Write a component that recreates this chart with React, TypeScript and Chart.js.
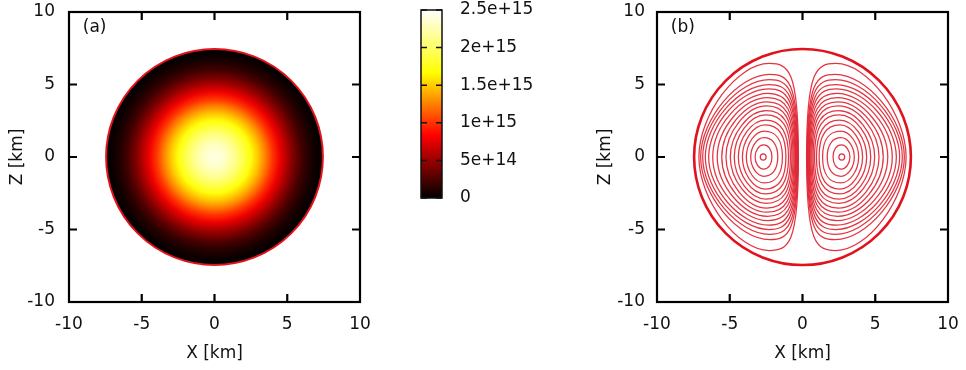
import React, { useEffect, useRef } from "react";
import { Chart, registerables } from "chart.js";

Chart.register(...registerables);

// ---------------- data ----------------
const axisTickValues = [-10, -5, 0, 5, 10];
const frameTickValues = [-5, 0, 5];
const starRadiusKm = 7.45;

// Panel (a): radial density profile
const profileRadiusKm = [0, 0.5, 1, 1.5, 2, 2.5, 3, 3.5, 4, 4.5, 5, 5.5, 6, 6.5, 7, 7.45];
const profileDensity = [
  2.4e15, 2.36e15, 2.25e15, 2.1e15, 1.91e15, 1.7e15, 1.48e15, 1.25e15,
  1.0e15, 0.78e15, 0.57e15, 0.38e15, 0.22e15, 0.11e15, 0.04e15, 0,
];

// Colour bar
const colorbarMin = 0;
const colorbarMax = 2.5e15;
const colorbarTickValues = [0, 5e14, 1e15, 1.5e15, 2e15, 2.5e15];
const colorbarTickLabels = ["0", "5e+14", "1e+15", "1.5e+15", "2e+15", "2.5e+15"];

// "hot" palette (black - red - yellow - white)
const paletteStops = [0, 1 / 3, 2 / 3, 1];
const paletteColors = [
  [0, 0, 0],
  [255, 0, 0],
  [255, 255, 0],
  [255, 255, 255],
];

// Panel (b): closed field-line loops of the right-hand family (inner -> outer),
// the left-hand family is the mirror image. Extents in km.
const loopInnerX = [2.5, 2.1, 1.7, 1.38, 1.14, 0.96, 0.83, 0.73, 0.65, 0.58, 0.52, 0.47, 0.43, 0.39, 0.35, 0.32, 0.28];
const loopTopX = [2.7, 2.68, 2.65, 2.62, 2.58, 2.55, 2.52, 2.49, 2.46, 2.43, 2.4, 2.37, 2.34, 2.31, 2.28, 2.25, 2.3];
const loopTopZ = [0.22, 0.83, 1.33, 1.79, 2.21, 2.55, 2.9, 3.19, 3.52, 3.81, 4.09, 4.39, 4.7, 5.0, 5.33, 5.7, 6.45];
const loopOuterX = [2.9, 3.26, 3.56, 3.86, 4.13, 4.41, 4.69, 4.96, 5.26, 5.55, 5.86, 6.17, 6.45, 6.68, 6.86, 7.0, 7.12];

const xAxisTitle = "X [km]";
const yAxisTitle = "Z [km]";

// ---------------- styling helpers ----------------
const FONT_FAMILY = "'DejaVu Sans', 'Liberation Sans', sans-serif";
const FONT = { family: FONT_FAMILY, size: 17 };
const TEXT = "#111";

function paletteColor(t: number): string {
  const v = Math.max(0, Math.min(1, t));
  for (let i = 1; i < paletteStops.length; i++) {
    if (v <= paletteStops[i]) {
      const f = (v - paletteStops[i - 1]) / (paletteStops[i] - paletteStops[i - 1]);
      const a = paletteColors[i - 1];
      const b = paletteColors[i];
      const c = a.map((ch, j) => Math.round(ch + (b[j] - ch) * f));
      return `rgb(${c[0]},${c[1]},${c[2]})`;
    }
  }
  const c = paletteColors[paletteColors.length - 1];
  return `rgb(${c[0]},${c[1]},${c[2]})`;
}

function clearScalePadding(s: any) {
  s.paddingTop = 0;
  s.paddingBottom = 0;
  s.paddingLeft = 0;
  s.paddingRight = 0;
}

function panelOptions(rightPad: number, yTickPad: number) {
  return {
    responsive: false,
    animation: false,
    events: [],
    layout: { padding: { left: 0, right: rightPad, top: 12, bottom: 0 } },
    plugins: { legend: { display: false }, tooltip: { enabled: false } },
    scales: {
      x: {
        type: "linear",
        min: -10,
        max: 10,
        afterBuildTicks: (s: any) => {
          s.ticks = axisTickValues.map((v) => ({ value: v }));
        },
        grid: { display: false, drawTicks: false },
        border: { display: false },
        ticks: {
          color: TEXT,
          font: FONT,
          padding: 12,
          maxRotation: 0,
          autoSkip: false,
          callback: (v: any) => String(v),
        },
        title: {
          display: true,
          text: xAxisTitle,
          color: TEXT,
          font: FONT,
          padding: { top: 0, bottom: 6.5 },
        },
        afterFit: (s: any) => {
          s.height = 68;
          clearScalePadding(s);
        },
      },
      y: {
        type: "linear",
        min: -10,
        max: 10,
        afterBuildTicks: (s: any) => {
          s.ticks = axisTickValues.map((v) => ({ value: v }));
        },
        grid: { display: false, drawTicks: false },
        border: { display: false },
        ticks: {
          color: TEXT,
          font: FONT,
          padding: yTickPad,
          autoSkip: false,
          callback: (v: any) => String(v),
        },
        title: {
          display: true,
          text: yAxisTitle,
          color: TEXT,
          font: FONT,
          padding: { top: 7.8, bottom: 0 },
        },
        afterFit: (s: any) => {
          s.width = 69;
          clearScalePadding(s);
        },
      },
    },
  } as any;
}

const framePlugin = {
  id: "frame",
  afterDraw(chart: any) {
    const { ctx, chartArea: ca, scales } = chart;
    const sx = scales.x;
    const sy = scales.y;
    const tl = 8;
    ctx.save();
    ctx.strokeStyle = "#000";
    ctx.lineWidth = 2.2;
    ctx.beginPath();
    for (const v of frameTickValues) {
      const px = sx.getPixelForValue(v);
      ctx.moveTo(px, ca.bottom);
      ctx.lineTo(px, ca.bottom - tl);
      ctx.moveTo(px, ca.top);
      ctx.lineTo(px, ca.top + tl);
      const py = sy.getPixelForValue(v);
      ctx.moveTo(ca.left, py);
      ctx.lineTo(ca.left + tl, py);
      ctx.moveTo(ca.right, py);
      ctx.lineTo(ca.right - tl, py);
    }
    ctx.stroke();
    ctx.strokeRect(ca.left, ca.top, ca.right - ca.left, ca.bottom - ca.top);
    ctx.restore();
  },
};

function tagPlugin(text: string) {
  return {
    id: "tag",
    afterDraw(chart: any) {
      const { ctx, scales } = chart;
      ctx.save();
      ctx.fillStyle = TEXT;
      ctx.font = `17px ${FONT_FAMILY}`;
      ctx.textAlign = "left";
      ctx.textBaseline = "middle";
      ctx.fillText(text, scales.x.getPixelForValue(-9.05), scales.y.getPixelForValue(8.95));
      ctx.restore();
    },
  };
}

const densityPlugin = {
  id: "density",
  beforeDatasetsDraw(chart: any) {
    const { ctx, scales } = chart;
    const sx = scales.x;
    const sy = scales.y;
    const cx = sx.getPixelForValue(0);
    const cy = sy.getPixelForValue(0);
    const rx = sx.getPixelForValue(starRadiusKm) - cx;
    const ry = cy - sy.getPixelForValue(starRadiusKm);
    ctx.save();
    ctx.translate(cx, cy);
    ctx.scale(1, ry / rx);
    const g = ctx.createRadialGradient(0, 0, 0, 0, 0, rx);
    profileRadiusKm.forEach((r, i) => {
      g.addColorStop(
        Math.min(1, r / starRadiusKm),
        paletteColor((profileDensity[i] - colorbarMin) / (colorbarMax - colorbarMin))
      );
    });
    ctx.fillStyle = g;
    ctx.beginPath();
    ctx.arc(0, 0, rx, 0, Math.PI * 2);
    ctx.fill();
    ctx.restore();

    ctx.save();
    ctx.strokeStyle = "rgb(228,20,28)";
    ctx.lineWidth = 2;
    ctx.beginPath();
    ctx.ellipse(cx, cy, rx, ry, 0, 0, Math.PI * 2);
    ctx.stroke();
    ctx.restore();
  },
};

const fieldLinePlugin = {
  id: "fieldlines",
  beforeDatasetsDraw(chart: any) {
    const { ctx, scales } = chart;
    const sx = scales.x;
    const sy = scales.y;
    const n = loopInnerX.length;

    ctx.save();
    ctx.strokeStyle = "rgba(224,36,50,0.92)";
    ctx.lineWidth = 1.25;
    for (const side of [1, -1]) {
      for (let i = 0; i < n; i++) {
        const t = Math.pow(i / (n - 1), 0.6);
        const a = 0.552 + 0.38 * t; // inner side straightness
        const b = 0.552 + 0.12 * t; // top-inner corner
        const k = 0.552 - 0.1 * t; // outer roundness
        const xi = loopInnerX[i];
        const xt = loopTopX[i];
        const zt = loopTopZ[i];
        const xo = loopOuterX[i];
        const X = (v: number) => sx.getPixelForValue(side * v);
        const Z = (v: number) => sy.getPixelForValue(v);
        ctx.beginPath();
        ctx.moveTo(X(xi), Z(0));
        ctx.bezierCurveTo(X(xi), Z(zt * a), X(xt - (xt - xi) * b), Z(zt), X(xt), Z(zt));
        ctx.bezierCurveTo(X(xt + (xo - xt) * k), Z(zt), X(xo), Z(zt * k), X(xo), Z(0));
        ctx.bezierCurveTo(X(xo), Z(-zt * k), X(xt + (xo - xt) * k), Z(-zt), X(xt), Z(-zt));
        ctx.bezierCurveTo(X(xt - (xt - xi) * b), Z(-zt), X(xi), Z(-zt * a), X(xi), Z(0));
        ctx.closePath();
        ctx.stroke();
      }
    }
    ctx.restore();

    const cx = sx.getPixelForValue(0);
    const cy = sy.getPixelForValue(0);
    const rx = sx.getPixelForValue(starRadiusKm) - cx;
    const ry = cy - sy.getPixelForValue(starRadiusKm);
    ctx.save();
    ctx.strokeStyle = "rgb(226,18,28)";
    ctx.lineWidth = 2.6;
    ctx.beginPath();
    ctx.ellipse(cx, cy, rx, ry, 0, 0, Math.PI * 2);
    ctx.stroke();
    ctx.restore();
  },
};

const colorbarPlugin = {
  id: "colorbar",
  beforeDatasetsDraw(chart: any) {
    const { ctx, chartArea: ca, scales } = chart;
    const sy = scales.y;
    const yBottom = sy.getPixelForValue(colorbarMin);
    const yTop = sy.getPixelForValue(colorbarMax);
    const g = ctx.createLinearGradient(0, yBottom, 0, yTop);
    paletteStops.forEach((s, i) => {
      const c = paletteColors[i];
      g.addColorStop(s, `rgb(${c[0]},${c[1]},${c[2]})`);
    });
    ctx.save();
    ctx.fillStyle = g;
    ctx.fillRect(ca.left, yTop, ca.right - ca.left, yBottom - yTop);
    ctx.strokeStyle = "#111";
    ctx.lineWidth = 1.5;
    ctx.beginPath();
    for (const v of colorbarTickValues) {
      const py = sy.getPixelForValue(v);
      ctx.moveTo(ca.left, py);
      ctx.lineTo(ca.left + 6, py);
      ctx.moveTo(ca.right, py);
      ctx.lineTo(ca.right - 6, py);
    }
    ctx.stroke();
    ctx.strokeRect(ca.left, yTop, ca.right - ca.left, yBottom - yTop);
    ctx.restore();
  },
};

const colorbarOptions = {
  responsive: false,
  animation: false,
  events: [],
  layout: { padding: { left: 21, right: 0, top: 10, bottom: 172 } },
  plugins: { legend: { display: false }, tooltip: { enabled: false } },
  scales: {
    x: { type: "linear", display: false, min: 0, max: 1 },
    y: {
      type: "linear",
      position: "right",
      min: colorbarMin,
      max: colorbarMax,
      afterBuildTicks: (s: any) => {
        s.ticks = colorbarTickValues.map((v) => ({ value: v }));
      },
      grid: { display: false, drawTicks: false },
      border: { display: false },
      ticks: {
        color: TEXT,
        font: FONT,
        padding: 18,
        autoSkip: false,
        callback: (v: any) => {
          const idx = colorbarTickValues.findIndex((t) => Math.abs(t - v) < 1e10);
          return idx >= 0 ? colorbarTickLabels[idx] : "";
        },
      },
      afterFit: (s: any) => {
        s.width = 146;
        clearScalePadding(s);
      },
    },
  },
} as any;

export default function App() {
  const aRef = useRef<HTMLCanvasElement>(null);
  const cRef = useRef<HTMLCanvasElement>(null);
  const bRef = useRef<HTMLCanvasElement>(null);

  useEffect(() => {
    const charts = [
      new Chart(aRef.current as HTMLCanvasElement, {
        type: "scatter",
        data: { datasets: [] },
        options: panelOptions(40, 14),
        plugins: [densityPlugin, framePlugin, tagPlugin("(a)")],
      } as any),
      new Chart(cRef.current as HTMLCanvasElement, {
        type: "scatter",
        data: { datasets: [] },
        options: colorbarOptions,
        plugins: [colorbarPlugin],
      } as any),
      new Chart(bRef.current as HTMLCanvasElement, {
        type: "scatter",
        data: { datasets: [] },
        options: panelOptions(18, 12),
        plugins: [fieldLinePlugin, framePlugin, tagPlugin("(b)")],
      } as any),
    ];
    return () => charts.forEach((c) => c.destroy());
  }, []);

  return (
    <div style={{ position: "fixed", left: 0, top: 0, width: 966, height: 370, background: "#fff" }}>
      <canvas ref={aRef} width={400} height={370} style={{ position: "absolute", left: 0, top: 0 }} />
      <canvas ref={cRef} width={188} height={370} style={{ position: "absolute", left: 400, top: 0 }} />
      <canvas ref={bRef} width={378} height={370} style={{ position: "absolute", left: 588, top: 0 }} />
    </div>
  );
}
